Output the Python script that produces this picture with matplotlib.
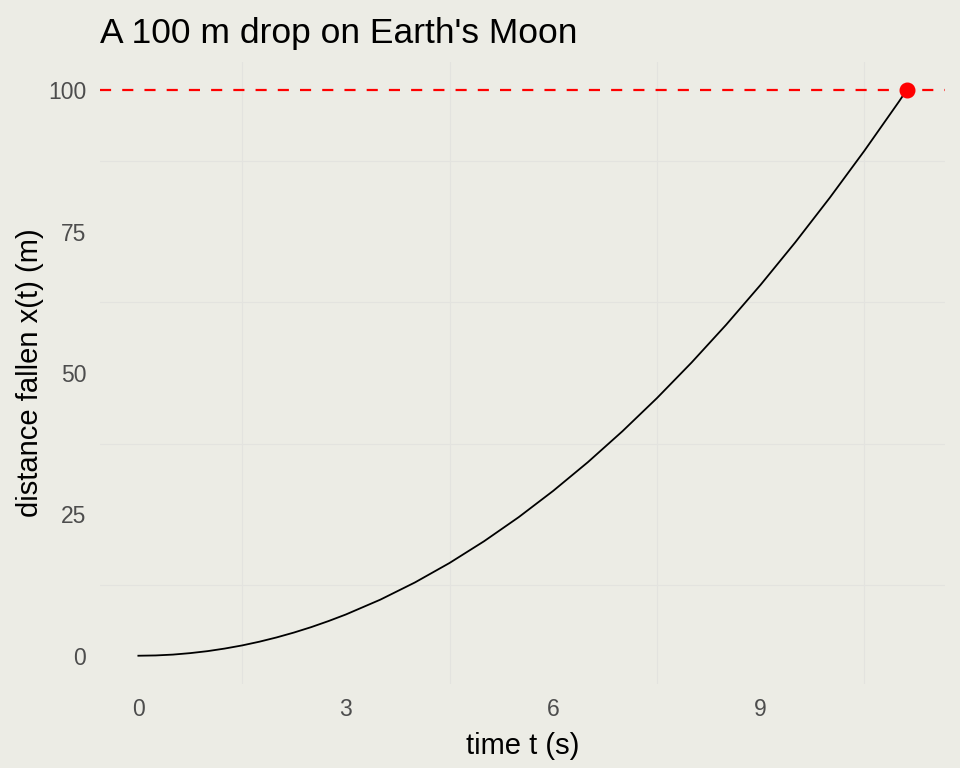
import matplotlib.pyplot as plt
from matplotlib.ticker import FixedLocator

# values
time_s = [0, 0.25, 0.5, 0.75, 1, 1.25, 1.5, 1.75, 2, 2.25, 2.5, 2.75, 3,
          3.5, 4, 4.5, 5, 5.5, 6, 6.5, 7, 7.5, 8, 8.5, 9, 9.5, 10, 10.5,
          11, 11.11]
distance_m = [0, 0.05, 0.2, 0.46, 0.81, 1.27, 1.82, 2.48, 3.24, 4.1, 5.06,
              6.13, 7.29, 9.92, 12.96, 16.4, 20.25, 24.5, 29.16, 34.22,
              39.69, 45.56, 51.84, 58.52, 65.61, 73.1, 81.0, 89.3, 98.0,
              100.0]
drop_height = 100
impact_time = 11.11

x_breaks = [0, 3, 6, 9]
x_minor = [1.5, 4.5, 7.5, 10.5]
y_breaks = [0, 25, 50, 75, 100]
y_minor = [12.5, 37.5, 62.5, 87.5]

bg = "#ECECE5"
grid_col = "#E3E3DF"

plt.rcParams["font.family"] = ["Liberation Sans", "DejaVu Sans"]

fig = plt.figure(figsize=(9.6, 7.68), dpi=100, facecolor=bg)
ax = fig.add_axes([100 / 960, 1 - 684 / 768, 845 / 960, 622 / 768])
ax.set_facecolor(bg)

ax.set_xlim(-0.555, 11.666)
ax.set_ylim(-5, 105)

for v in x_minor:
    ax.axvline(v, color=grid_col, linewidth=0.8, zorder=0)
for v in y_minor:
    ax.axhline(v, color=grid_col, linewidth=0.8, zorder=0)

ax.axhline(drop_height, color="red", linewidth=1.6, dashes=(5, 5), zorder=2)
ax.plot(time_s, distance_m, color="black", linewidth=1.3, zorder=3)
ax.plot([impact_time], [drop_height], "o", color="red", markersize=10.5, zorder=4)

ax.xaxis.set_major_locator(FixedLocator(x_breaks))
ax.yaxis.set_major_locator(FixedLocator(y_breaks))
ax.tick_params(length=0, labelsize=16.5, labelcolor="#4D4D4D", pad=10)

for s in ax.spines.values():
    s.set_visible(False)

ax.set_xlabel("time t (s)", fontsize=21, labelpad=8)
ax.set_ylabel("distance fallen x(t) (m)", fontsize=21, labelpad=3)
ax.set_title("A 100 m drop on Earth's Moon", fontsize=25.5, loc="left", pad=14)

fig.savefig("out.png", dpi=100, facecolor=bg)
